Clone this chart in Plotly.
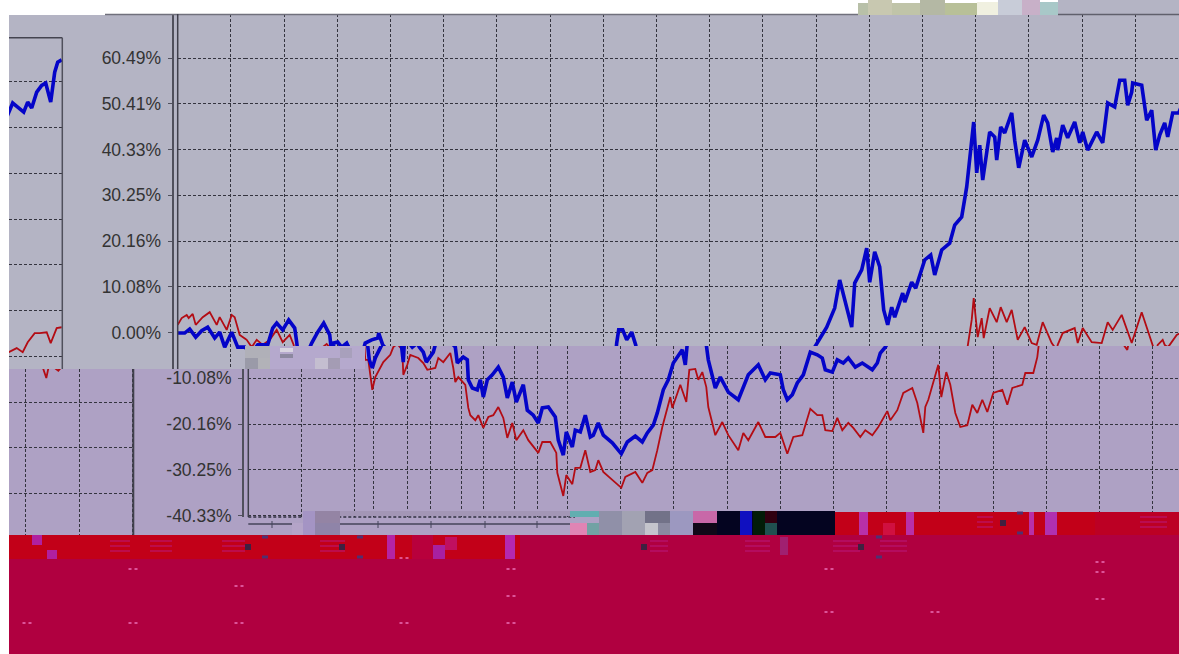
import plotly.graph_objects as go

# ---------- data (session number along the chart, return in %) ----------
blue_x = [0,7,12,18,24,30,37,42,47,54,60,67,74,80,90,95,99,105,111,117,119,121,124,127,131,134,140,146,152,155,156,160,164,169,171,175,178,185,187.5,194,200,201,205,207,209,212,215,219,220,224,229,232,235,239,244,250,255,259,264,268,275,279,285,290,294,300,307,310,315,318,324,327,332,337,342,345,350,355,364,373,379,387,394,399,405,409,412,415,420,425,434,437,439,441,445,449,454,458,460,467,472,480,490,495,500,510,517,522,532,535,539,544,549,555,562,569,574,577,584,589,595,600,607,614,624,629,632,637,640,649,657,662,674,677,684,689,692,697,702,706,710,714,717,725,727,734,738,747,753,757,764,772,777,784,789,794,796,799,802,805,812,817,819,823,827,834,837,841,847,854,860,866,870,875,879,880,885,890,897,902,905,910,919,925,930,937,942,947,950,954,955,964,969,974,978,982,987,990,995,1001,1011,1015,1020,1026,1030,1034,1039,1044,1048,1053,1057,1060,1064]
blue_y = [-0.1,-0.1,0.8,-1.0,0.4,1.2,-1.2,0.1,-3.2,0.1,-3.2,-3.2,-4.5,-2.7,-2.7,1.0,2.1,0.6,2.8,1.0,-2.1,-6.0,-7.8,-5.6,-3.8,-2.3,0.1,2.1,-0.5,-6.5,-2.3,-2.1,-3.2,-2.3,-3.2,-4.3,-6.5,-4.3,-2.3,-1.6,-1.2,-0.1,-2.7,-3.2,-6.7,-6.0,-5.4,-6.0,-10.4,-12.2,-12.6,-10.4,-14.2,-10.4,-9.3,-7.6,-9.8,-14.4,-10.9,-15.3,-11.5,-17.1,-18.2,-19.9,-16.6,-16.4,-18.6,-23.7,-27.0,-21.9,-25.2,-21.5,-21.9,-18.2,-23.0,-22.6,-19.9,-22.6,-24.3,-26.7,-24.1,-22.8,-24.1,-22.1,-20.4,-17.7,-14.8,-12.6,-10.4,-6.7,-3.8,-7.1,-2.3,0.6,0.6,-1.6,0.1,-2.7,-6.0,-12.2,-9.8,-13.1,-14.8,-12.0,-9.3,-7.1,-10.4,-8.9,-9.3,-12.6,-14.8,-13.7,-11.1,-9.3,-4.3,-4.9,-5.6,-8.2,-8.7,-6.0,-6.7,-5.6,-7.6,-6.7,-8.2,-6.7,-4.5,-3.2,-2.1,1.2,5.4,11.6,1.2,10.9,13.8,18.6,11.1,17.8,14.5,5.0,1.7,5.6,3.4,8.7,6.7,11.1,9.8,16.0,17.1,12.7,18.2,19.7,23.7,25.5,32.1,42.4,46.4,35.2,41.3,33.6,44.2,43.1,38.0,45.3,44.0,48.4,42.4,36.3,42.4,38.7,42.4,47.9,46.2,39.8,42.9,40.2,45.7,42.9,46.4,41.8,44.2,40.2,44.2,41.8,50.6,49.7,55.6,55.6,50.1,53.0,55.0,54.5,46.8,49.0,40.2,43.5,46.2,43.1,48.4,48.4,53.8,55.8,54.9,53.8,56.0,54.7,58.2,59.7,60.2,56.0,62.6,64.8,65.3]
red_x = [0,4,9,11,15,18,25,32,39,42,49,54,57,62,69,74,79,85,92,99,105,112,116,117,120,124,127,135,142,145,149,154,155,159,162,170,175,179,187,190,195,202,205,207,210,217,220,222,227,230,235,240,245,250,255,259,264,268,275,280,290,294,302,308,309,315,318,324,327,332,337,342,347,350,355,364,373,377,387,394,399,404,409,414,419,422,424,432,438,441,447,450,454,458,460,467,474,480,490,495,500,510,517,527,532,539,545,554,562,569,574,577,584,589,594,600,605,612,617,624,630,639,642,649,655,664,669,675,677,680,690,693,698,702,707,712,719,724,729,734,739,745,754,759,764,774,777,785,789,790,794,796,800,804,806,812,819,823,829,834,840,847,854,859,865,874,879,880,885,897,900,905,914,924,930,935,944,950,954,964,970,975,978,980,985,987,990,992,999,1011,1019,1025,1030,1037,1042,1049,1053,1059,1064]
red_y = [1.7,3.2,3.9,3.2,4.1,1.7,3.4,4.5,1.7,3.4,0.6,3.9,3.4,-0.5,-1.6,-3.2,-1.6,-2.7,-1.6,0.6,-2.1,-0.5,-2.7,-6.0,-6.0,-12.6,-9.8,-6.5,-4.9,-3.2,-2.5,-3.8,-9.3,-7.1,-4.9,-5.6,-6.7,-8.2,-7.8,-5.6,-6.5,-4.5,-7.8,-10.9,-9.8,-11.5,-16.6,-18.2,-19.3,-18.2,-21.0,-18.6,-18.2,-16.4,-18.8,-23.2,-19.9,-23.7,-21.5,-23.7,-26.5,-24.1,-24.1,-26.5,-30.9,-36.0,-31.4,-33.4,-29.8,-29.8,-25.9,-30.7,-30.3,-28.1,-30.7,-32.5,-34.2,-31.8,-30.7,-33.1,-30.9,-30.3,-25.9,-20.8,-16.4,-14.2,-16.6,-11.5,-15.3,-8.2,-8.0,-10.4,-8.7,-12.0,-16.4,-22.6,-19.7,-22.6,-25.9,-22.1,-23.7,-19.7,-23.0,-23.0,-22.1,-26.7,-23.0,-22.6,-16.8,-18.2,-18.2,-21.5,-21.7,-18.8,-21.5,-19.9,-21.0,-23.0,-21.5,-22.6,-20.8,-17.3,-19.3,-17.1,-13.3,-12.2,-15.5,-22.1,-16.4,-14.8,-7.1,-14.2,-8.7,-11.5,-17.7,-20.8,-20.4,-15.9,-17.7,-14.8,-17.5,-13.3,-12.6,-15.9,-12.2,-11.5,-8.9,-8.9,-5.4,-3.0,2.8,7.6,-1.0,3.2,-1.2,5.4,2.3,5.6,2.3,5.0,-1.6,1.2,-2.3,-2.7,2.3,-2.3,-3.8,-2.7,-0.1,1.0,-2.3,1.0,-2.1,-2.3,2.3,0.6,3.9,-0.1,-2.3,4.5,0.6,-2.7,-4.8,-2.7,-1.6,-2.7,-3.2,-2.7,-0.5,0.9,1.8,0.9,3.1,5.1,5.1,5.3,2.9,6.2,6.4]
y_ticks = [60.49, 50.41, 40.33, 30.25, 20.16, 10.08, 0.0, -10.08, -20.16, -30.25, -40.33]
y_labels = ["60.49%", "50.41%", "40.33%", "30.25%", "20.16%", "10.08%", "0.00%", "-10.08%", "-20.16%", "-30.25%", "-40.33%"]
x_label_ticks = [0.5, 125, 182, 235, 289]
x_label_text = ["0", "7", "8", "0", "0"]

W, H = 1179, 654
GRID = "#34343f"
TOP_BG, LOW_BG, CRIMSON, BAND = "#b4b4c4", "#aea1c4", "#b00040", "#c20018"
PCT_PER_PX = 10.08 / 45.75
X_STEP = 53.2
x_grid = [i * X_STEP for i in range(21)]

def v_at(py, off=0):
    return (332.6 - (py - off)) * PCT_PER_PX

fig = go.Figure()
layout = dict(width=W, height=H, margin=dict(l=0, r=0, t=0, b=0, autoexpand=False), autosize=False,
              paper_bgcolor="white", plot_bgcolor="rgba(0,0,0,0)", showlegend=False,
              hovermode=False)

def pane(i, px0, px1, py0, py1, x_origin, off=0, free_axis=None, lab_lo=None, lab_hi=None, xlab=None):
    xn, yn = f"xaxis{i}", f"yaxis{i}"
    layout[xn] = dict(domain=[px0 / W, px1 / W], range=[px0 - x_origin, px1 - x_origin],
                      tickvals=x_grid, showgrid=True, gridcolor=GRID, griddash="3px,2px", gridwidth=1.2,
                      zeroline=False, ticks="", showticklabels=False, anchor=f"y{i}")
    if xlab:
        layout[xn].update(tickvals=x_grid + xlab[0], ticktext=[""] * len(x_grid) + xlab[1],
                          showticklabels=True, ticklabelstandoff=12,
                          tickfont=dict(family="Liberation Sans", size=17, color="#333333"))
    y_ax = dict(domain=[1 - py1 / H, 1 - py0 / H], range=[v_at(py1, off), v_at(py0, off)],
                tickvals=y_ticks, showgrid=True, gridcolor=GRID, griddash="3px,2px", gridwidth=1.2,
                zeroline=False, showticklabels=False, ticks="", anchor=f"x{i}")
    if free_axis is not None:
        vals = [v for v in y_ticks if lab_lo <= v <= lab_hi]
        txt = [y_labels[y_ticks.index(v)] for v in vals]
        y_ax.update(anchor="free", position=free_axis / W, showline=True, linecolor="#50505c", linewidth=2,
                    ticks="outside", ticklen=4, tickcolor="#50505c", tickwidth=1,
                    showticklabels=True, tickvals=vals, ticktext=txt, ticklabelstandoff=3,
                    tickfont=dict(family="Liberation Sans", size=17.5, color="#333333"), overlaying=None)
    layout[yn] = y_ax
    suffix = "" if i == 1 else str(i)
    fig.add_trace(go.Scatter(x=red_x, y=red_y, mode="lines", xaxis="x" + suffix, yaxis="y" + suffix,
                             line=dict(color="#b30c14", width=1.8), hoverinfo="skip"))
    fig.add_trace(go.Scatter(x=blue_x, y=blue_y, mode="lines", xaxis="x" + suffix, yaxis="y" + suffix,
                             line=dict(color="#0404c8", width=3.6), hoverinfo="skip"))

TOP0, LOW0 = 177.7, 248.3
pane(1, 245, W, 14, 346, TOP0)                                             # upper chart, right part
pane(2, TOP0, 245, 14, 369, TOP0, free_axis=172.5, lab_lo=-1, lab_hi=70)   # upper chart, left part
pane(3, 9, 62.3, 37.7, 369, TOP0 - 1180, off=23.7)                         # upper chart, wrapped tail
pane(4, 365, W, 346, 517, LOW0, xlab=(x_label_ticks[1:], x_label_text[1:]))
pane(5, LOW0, 365, 369, 517, LOW0, free_axis=243, lab_lo=-41, lab_hi=-9, xlab=(x_label_ticks[:1], x_label_text[:1]))
pane(6, 9, 133.3, 369, 535, LOW0 - 1180, off=23.7)                         # lower chart, wrapped tail

shapes = []
def rect(x0, y0, x1, y1, color, layer="above"):
    shapes.append(dict(type="rect", xref="paper", yref="paper", x0=x0 / W, x1=x1 / W,
                       y0=1 - y1 / H, y1=1 - y0 / H, fillcolor=color, line=dict(width=0), layer=layer))
def line(x0, y0, x1, y1, color, width=1, layer="above", dash=None):
    shapes.append(dict(type="line", xref="paper", yref="paper", x0=x0 / W, x1=x1 / W,
                       y0=1 - y1 / H, y1=1 - y0 / H, line=dict(color=color, width=width, dash=dash), layer=layer))

# panels behind the chart
rect(9, 15, W, 369, TOP_BG, "below")
rect(9, 369, W, 535, LOW_BG, "below")
rect(365, 346, W, 369, LOW_BG, "below")
rect(1058, 0, W, 15, TOP_BG, "below")

# broken strip between the upper and lower chart
for b in [(245, 346, 270, 358, "#b0b0b8"), (245, 358, 258, 369, "#9a9aa8"), (258, 358, 270, 369, "#b2b2b8"),
          (270, 346, 365, 369, "#b5a9cd"), (280, 348, 293, 352, "#d8d4e0"), (280, 354, 293, 358, "#8c88a0"),
          (315, 358, 328, 369, "#c4bed0"), (328, 358, 340, 369, "#a49cb4"), (340, 348, 352, 358, "#a8a0bc")]:
    rect(*b)

# frames
line(105, 14.5, 858, 14.5, "#70707c", 1.5)
line(1058, 14.5, W, 14.5, "#60606c", 1.5)
line(9, 37.7, 62.3, 37.7, "#444450", 1.5)
line(62.3, 37.7, 62.3, 369, "#50505c", 1.5)
line(133.3, 369, 133.3, 535, "#40404c", 2)
line(TOP0, 14, TOP0, 369, "#40404c", 1.5)
line(LOW0, 369, LOW0, 517, "#40404c", 1.5)
line(LOW0, 517, 575, 517, "#303040", 1.5, dash="3px,2px")
line(LOW0, 524, 575, 524, "#44445a", 1.5)
for px in [272, 325, 378, 431, 485, 537]:
    line(px, 521, px, 528, "#44445a", 1)

# broken blocks along the foot of the lower chart
for b in [(292, 523, 303, 535, "#b4a4c8"), (303, 511, 315, 535, "#a494c4"), (315, 511, 340, 523, "#9484a4"),
          (315, 523, 340, 535, "#8f84a8"), (340, 511, 570, 516, "#a396b6"),
          (570, 511, 599, 517, "#62aeb0"), (570, 523, 587, 535, "#e084b4"), (587, 523, 599, 535, "#72a2a4"),
          (599, 511, 622, 535, "#9090a8"), (622, 511, 645, 535, "#a2a2b2"), (645, 511, 670, 523, "#727288"),
          (645, 523, 658, 535, "#c4c4cc"), (658, 523, 670, 535, "#8a8aa0"), (670, 511, 693, 535, "#9c98c0"),
          (693, 511, 717, 523, "#c868a8"), (693, 523, 717, 535, "#100818"), (717, 511, 835, 535, "#040420"),
          (740, 511, 752, 535, "#1010c0"), (753, 511, 765, 535, "#021c08"), (765, 511, 777, 523, "#300010"),
          (765, 523, 777, 535, "#205050")]:
    rect(*b)

# red bands and the crimson floor
rect(835, 512, W, 535, BAND)
rect(1095, 512, W, 535, "#bc0024")
rect(9, 535, W, H, CRIMSON)
rect(9, 535, 520, 559, BAND)
rect(412, 535, 433, 559, "#b8003c")
for b in [(32, 535, 42, 545, "#b020a0"), (47, 550, 57, 559, "#b020a0"), (387, 535, 395, 559, "#b424a4"),
          (433, 545, 445, 559, "#a820a0"), (445, 537, 457, 550, "#c01060"), (505, 535, 515, 559, "#b428b0"),
          (859, 512, 868, 535, "#b830a8"), (906, 512, 914, 535, "#b830a8"), (883, 523, 895, 535, "#d01040"),
          (1029, 512, 1034, 535, "#b830a8"), (1045, 512, 1057, 535, "#b030b0"), (780, 537, 788, 555, "#a02070")]:
    rect(*b)
for x0, x1, y0 in [(110, 130, 541), (150, 172, 541), (222, 245, 541), (320, 345, 541), (650, 668, 541),
                   (745, 770, 541), (833, 860, 541), (880, 907, 541), (977, 993, 517), (1140, 1167, 517)]:
    for d in (0, 5, 10):
        line(x0, y0 + d, x1, y0 + d, "#b8187c", 1)
for x, y in [(248, 547), (342, 547), (1003, 523), (861, 547), (644, 547)]:
    rect(x - 3, y - 3, x + 3, y + 3, "#402040")
for x, y in [(265, 537), (265, 557), (360, 537), (360, 557), (1020, 513), (1020, 533), (879, 537), (879, 557)]:
    rect(x - 3, y - 1.5, x + 3, y + 1.5, "#503070")

# little pink marks on the floor
for x, y in [(133, 569), (239, 586), (27, 623), (133, 623), (239, 623), (404, 558), (511, 569), (511, 596),
             (404, 623), (511, 623), (829, 569), (829, 612), (935, 612), (1100, 562), (1100, 572), (1100, 599)]:
    rect(x - 4.5, y - 0.7, x - 1.5, y + 0.7, "#f078c0")
    rect(x + 1.5, y - 0.7, x + 4.5, y + 0.7, "#f078c0")

# broken blocks along the top edge
for b in [(858, 3, 868, 15, "#b8c0a8"), (868, 0, 892, 15, "#c8c8b0"), (892, 3, 920, 15, "#c0c4a8"),
          (920, 0, 945, 15, "#b4b8a4"), (945, 3, 977, 15, "#b8c098"), (977, 2, 998, 15, "#f0f0e0"),
          (998, 0, 1022, 15, "#c8ccd8"), (1022, 0, 1040, 15, "#c8b0c8"), (1040, 2, 1058, 15, "#a8c8c8")]:
    rect(*b)

layout["shapes"] = shapes
fig.update_layout(**layout)
fig.write_html("out.html", config={"displayModeBar": False},
               post_script="document.body.style.margin='0';document.documentElement.style.overflow='hidden';")
